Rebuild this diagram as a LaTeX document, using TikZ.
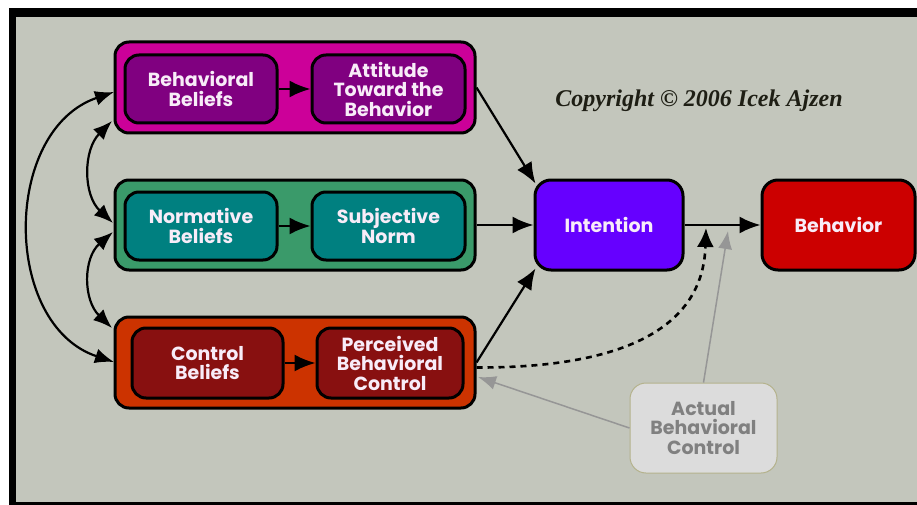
\documentclass[tikz,border=0pt]{standalone}
\usepackage{fontspec}
\setmainfont{Liberation Serif}
\newfontfamily\boxfont{Poppins}
\usetikzlibrary{arrows.meta,calc}
\definecolor{bg}{RGB}{195,198,188}
\definecolor{magouter}{RGB}{204,0,153}
\definecolor{maginner}{RGB}{128,0,128}
\definecolor{grnouter}{RGB}{58,154,106}
\definecolor{grninner}{RGB}{0,128,128}
\definecolor{orgouter}{RGB}{204,51,0}
\definecolor{orginner}{RGB}{136,16,16}
\definecolor{intfill}{RGB}{102,0,255}
\definecolor{behfill}{RGB}{204,0,0}
\definecolor{abcfill}{RGB}{220,220,220}
\definecolor{abctext}{RGB}{128,128,128}
\definecolor{abcline}{RGB}{180,178,140}
\definecolor{txtcol}{RGB}{248,236,248}
\definecolor{copycol}{RGB}{30,30,20}
\definecolor{grayarrow}{RGB}{150,150,150}
\begin{document}
\begin{tikzpicture}[x=1pt,y=-1pt,
  outerbox/.style={draw=black, line width=3pt, rounded corners=14pt, minimum width=360pt, minimum height=91pt, inner sep=0pt},
  innerbox/.style={draw=black, line width=3pt, rounded corners=14pt, minimum height=68pt, inner sep=0pt, align=center,
     text=txtcol, font=\boxfont\bfseries\fontsize{19}{19.5}\selectfont},
  bigbox/.style={draw=black, line width=3pt, rounded corners=16pt, minimum width=150pt, minimum height=90pt, inner sep=0pt, align=center,
     text=txtcol, font=\boxfont\bfseries\fontsize{19}{19.5}\selectfont},
  arr/.style={-{Latex[length=21pt,width=17pt]}, line width=2.2pt, draw=black},
  dblarr/.style={{Latex[length=19pt,width=15pt]}-{Latex[length=19pt,width=15pt]}, line width=2.2pt, draw=black},
  dasharr/.style={-{Latex[length=19pt,width=17pt]}, line width=2.6pt, draw=black, dash pattern=on 6pt off 5pt},
  grayarr/.style={-{Latex[length=18pt,width=14pt]}, line width=1.5pt, draw=grayarrow, fill=grayarrow}
]
\useasboundingbox (0,0) rectangle (917,505);
\fill[white] (0,0) rectangle (917,505);
\fill[black] (9,8) rectangle (917,505);
\fill[bg] (16,17) rectangle (917,502);

% outer group boxes
\node[outerbox, fill=magouter] (mag) at (295,87.5) {};
\node[outerbox, fill=grnouter, minimum height=90pt] (grn) at (295,225) {};
\node[outerbox, fill=orgouter] (org) at (295,362.5) {};

% inner boxes
\node[innerbox, fill=maginner, minimum width=152pt] (bb) at (201,89) {Behavioral\\Beliefs};
\node[innerbox, fill=maginner, minimum width=153pt] (atb) at (388.5,89) {Attitude\\Toward the\\Behavior};
\node[innerbox, fill=grninner, minimum width=152pt] (nb) at (201,226) {Normative\\Beliefs};
\node[innerbox, fill=grninner, minimum width=153pt] (sn) at (388.5,226) {Subjective\\Norm};
\node[innerbox, fill=orginner, minimum width=151pt, minimum height=70pt] (cb) at (207.5,363) {Control\\Beliefs};
\node[innerbox, fill=orginner, minimum width=146pt, minimum height=70pt] (pbc) at (390,363) {Perceived\\Behavioral\\Control};

% main boxes
\node[bigbox, fill=intfill, minimum width=148pt] (int) at (609,225) {Intention};
\node[bigbox, fill=behfill, minimum width=153pt] (beh) at (838.5,225) {Behavior};
\node[draw=abcline, line width=1pt, rounded corners=16pt, fill=abcfill, minimum width=147pt, minimum height=90pt,
      inner sep=0pt, align=center, text=abctext, font=\boxfont\bfseries\fontsize{19}{19.5}\selectfont] (abc) at (703.5,428) {Actual\\Behavioral\\Control};

% copyright
\node[font=\bfseries\itshape\fontsize{24}{26}\selectfont, text=copycol, anchor=center] (copy) at (699,101) {Copyright \textcopyright{} 2006 Icek Ajzen};

% inner arrows
\draw[arr] (bb.east) -- (atb.west);
\draw[arr] (nb.east) -- (sn.west);
\draw[arr] (cb.east) -- (pbc.west);

% to intention
\draw[arr] (mag.east) -- ([xshift=2pt,yshift=-5pt]int.north west);
\draw[arr] (grn.east) -- (int.west);
\draw[arr] (org.east) -- ([xshift=2pt,yshift=3pt]int.south west);
\draw[arr] (int.east) -- (beh.west);

% dashed PBC -> behavior line
\coordinate (dtip) at (706,228);
\draw[dasharr] ([yshift=-5pt]org.east) .. controls (620,368) and (703,330) .. (dtip);

% gray arrows from actual behavioral control
\coordinate (gtip) at (728,231);
\coordinate (gtip2) at (478,377);
\draw[grayarr] (abc.north) -- (gtip);
\draw[grayarr] (abc.west) -- (gtip2);

% left correlation arcs
\coordinate (a1) at (114,92);
\coordinate (a2) at (114,362);
\coordinate (b1) at (112,121);
\coordinate (b2) at (113,223);
\coordinate (c1) at (113,232);
\coordinate (c2) at (112,328);
\draw[dblarr] (a1) .. controls (2,130) and (2,325) .. (a2);
\draw[dblarr] (b1) .. controls (83,150) and (83,195) .. (b2);
\draw[dblarr] (c1) .. controls (83,258) and (83,300) .. (c2);
\end{tikzpicture}
\end{document}
